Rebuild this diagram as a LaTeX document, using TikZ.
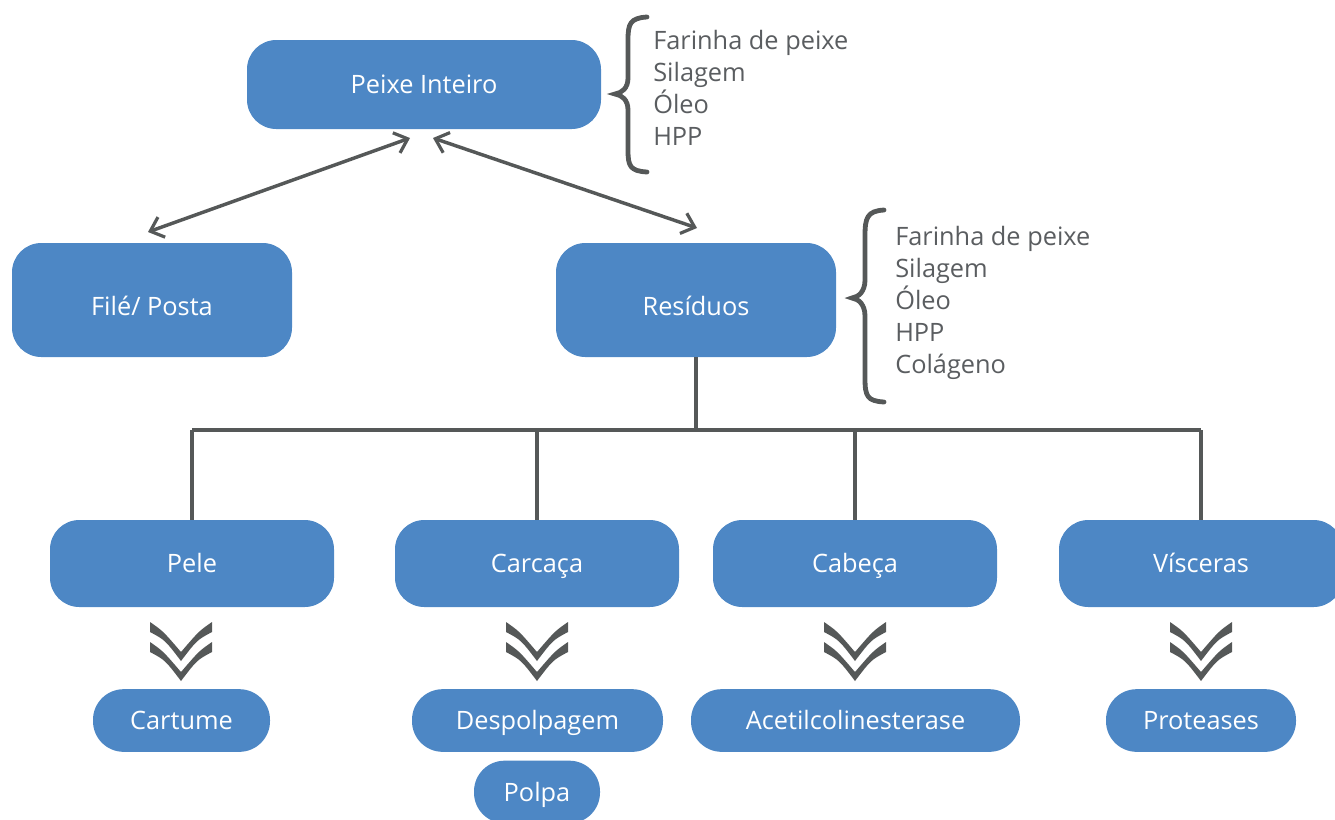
\documentclass[tikz,border=0pt]{standalone}
\usepackage{fontspec}
\setmainfont{Open Sans}
\usetikzlibrary{arrows.meta}
\definecolor{boxblue}{HTML}{4D87C5}
\definecolor{linegray}{HTML}{555858}
\definecolor{textgray}{HTML}{5A5D60}
\tikzset{
  box/.style={fill=boxblue, text=white, rounded corners=22pt, inner sep=0pt,
    text height=13.5pt, text depth=0pt,
    font=\fontsize{19}{22}\selectfont},
  tallbox/.style={box, text height=22.5pt},
  pill/.style={fill=boxblue, text=white, rounded corners=23pt, inner sep=0pt,
    text height=13.5pt, text depth=0pt,
    minimum height=47pt, font=\fontsize{19}{22}\selectfont},
  conn/.style={draw=linegray, line width=2.6pt},
  dblarrow/.style={conn, {Straight Barb[length=9pt,width=16pt,line width=2.4pt]}-{Straight Barb[length=9pt,width=16pt,line width=2.4pt]}},
  bracestyle/.style={draw=linegray, line width=3.6pt, line cap=round},
  listtext/.style={text=textgray, align=left, anchor=north west, inner sep=0pt,
    font=\fontsize{19}{24}\selectfont},
  chev/.style={fill=linegray, draw=none}
}
\begin{document}
\begin{tikzpicture}[x=0.75pt,y=-0.75pt]
\useasboundingbox (0,0) rectangle (1335,819);
\clip (0,0) rectangle (1335,819);

% main nodes
\node[box, minimum width=265.5pt, minimum height=66.75pt] (peixe) at (424,84.5) {Peixe Inteiro};
\node[tallbox, minimum width=210pt, minimum height=85.5pt] (file) at (152,300) {Filé/ Posta};
\node[tallbox, minimum width=210pt, minimum height=85.5pt] (resid) at (696,300) {Resíduos};

\node[box, minimum width=213pt, minimum height=65.25pt] (pele) at (192,563.5) {Pele};
\node[box, minimum width=213pt, minimum height=65.25pt] (carc) at (537,563.5) {Carcaça};
\node[box, minimum width=213pt, minimum height=65.25pt] (cabe) at (855,563.5) {Cabeça};
\node[box, minimum width=213pt, minimum height=65.25pt] (visc) at (1201,563.5) {Vísceras};

\node[pill, minimum width=132.75pt] (cart) at (181.5,720.5) {Cartume};
\node[pill, minimum width=188.25pt] (desp) at (537.5,720.5) {Despolpagem};
\node[pill, minimum width=94.5pt] (polpa) at (537,792) {Polpa};
\node[pill, minimum width=246.75pt] (acet) at (855.5,720.5) {Acetilcolinesterase};
\node[pill, minimum width=142.5pt] (prot) at (1201,720.5) {Proteases};

% double arrows
\coordinate (pA) at (410,138);
\coordinate (fA) at (148,232);
\coordinate (pB) at (433,138);
\coordinate (rB) at (697,228);
\draw[dblarrow] (fA) -- (pA);
\draw[dblarrow] (pB) -- (rB);

% tree
\coordinate (bus) at (696,430);
\draw[conn] (resid.south) -- (bus);
\draw[conn] (192,430) -- (1201,430);
\draw[conn] (pele.north) -- (pele.north |- bus);
\draw[conn] (carc.north) -- (carc.north |- bus);
\draw[conn] (cabe.north) -- (cabe.north |- bus);
\draw[conn] (visc.north) -- (visc.north |- bus);

% chevrons
\foreach \cx in {181,537,855,1201}{
  \foreach \dy in {0,20}{
    \fill[chev] (\cx-31,622+\dy) .. controls (\cx-18,631+\dy) .. (\cx,652+\dy)
      .. controls (\cx+18,631+\dy) .. (\cx+31,622+\dy)
      -- (\cx+31,632+\dy) .. controls (\cx+16,640+\dy) .. (\cx,661+\dy)
      .. controls (\cx-16,640+\dy) .. (\cx-31,632+\dy) -- cycle;
  }
}

% braces
\draw[bracestyle] (647,17) .. controls (630,18) and (628,24) .. (628,40)
  -- (628,78) .. controls (628,88) and (622,93) .. (615,94)
  .. controls (622,95) and (628,100) .. (628,110)
  -- (628,150) .. controls (628,166) and (630,171) .. (647,172);
\draw[bracestyle] (884,210) .. controls (867,211) and (865,218) .. (865,236)
  -- (865,280) .. controls (865,291) and (859,297) .. (852,298)
  .. controls (859,299) and (865,305) .. (865,316)
  -- (865,378) .. controls (865,396) and (867,401) .. (884,402);

\node[listtext] (list1) at (653,30) {Farinha de peixe\\Silagem\\Óleo\\HPP};
\node[listtext] (list2) at (895,226) {Farinha de peixe\\Silagem\\Óleo\\HPP\\Colágeno};
\end{tikzpicture}
\end{document}
